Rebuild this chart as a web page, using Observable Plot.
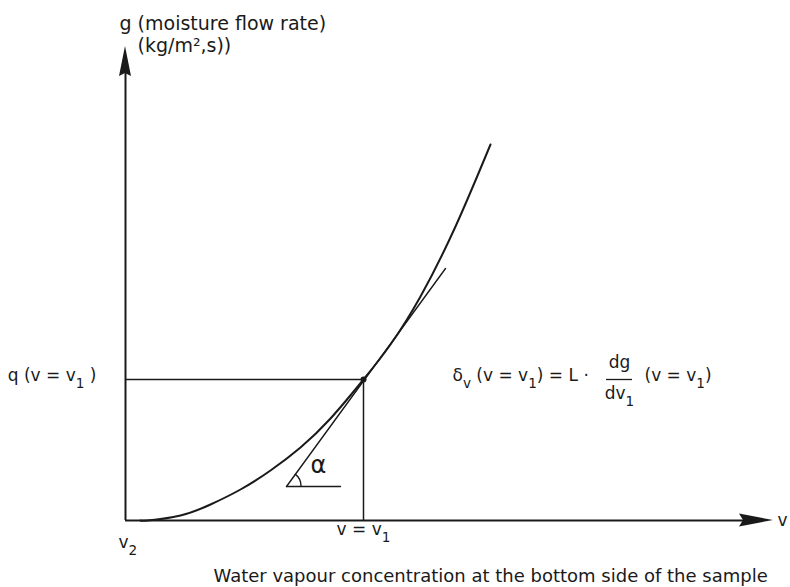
<!DOCTYPE html>
<html><head><meta charset="utf-8">
<script src="https://cdn.jsdelivr.net/npm/d3@7"></script>
<script src="https://cdn.jsdelivr.net/npm/@observablehq/plot@0.6"></script>
<style>
body{margin:0;background:#fff}
#chart svg{display:block}
</style>
</head><body><div id="chart"></div>
<script>
const curveV = [15, 22, 55, 85, 115, 145, 175, 205, 238, 265, 295, 330, 365];
const curveG = [0, 0, 5, 16, 31, 50, 73, 102, 141, 176, 224, 294, 376];
// Operating point v = v1, g = g(v1)
const pointV = [238];
const pointG = [141];
// Tangent at v1 (end points)
const tangentV = [161, 320];
const tangentG = [34, 252];
// Horizontal reference line for the angle alpha
const alphaV = [161, 215];
const alphaG = [34, 34];
// Axis extents
const axisVMax = 648;
const axisGMax = 474;

const ink = "#1a1a1a";
const font = "DejaVu Sans, sans-serif";
const fs = 17;

const curve = curveV.map((v, i) => ({v, g: curveG[i]}));
const tangent = tangentV.map((v, i) => ({v, g: tangentG[i]}));
const alphaLine = alphaV.map((v, i) => ({v, g: alphaG[i]}));
const pt = pointV.map((v, i) => ({v, g: pointG[i]}));

const ns = "http://www.w3.org/2000/svg";
function decorations(index, scales) {
  const x = scales.x, y = scales.y;
  const g = document.createElementNS(ns, "g");
  const add = (d, fill, stroke) => {
    const p = document.createElementNS(ns, "path");
    p.setAttribute("d", d);
    p.setAttribute("fill", fill);
    if (stroke) { p.setAttribute("stroke", stroke); p.setAttribute("stroke-width", 1.4); }
    g.appendChild(p);
  };
  // y-axis arrow head
  const x0 = x(0), yt = y(axisGMax);
  add(`M${x0},${yt} L${x0 - 6},${yt + 30} L${x0},${yt + 27} L${x0 + 6},${yt + 30} Z`, ink);
  // x-axis arrow head
  const y0 = y(0), xt = x(axisVMax);
  add(`M${xt},${y0} L${xt - 34},${y0 - 6.5} L${xt - 30},${y0} L${xt - 34},${y0 + 6.5} Z`, ink);
  // angle arc
  const cx = x(tangentV[0]), cy = y(tangentG[0]);
  const dx = x(tangentV[1]) - cx, dy = y(tangentG[1]) - cy;
  const th = Math.atan2(-dy, dx), r = 15;
  add(`M${cx + r},${cy} A${r},${r} 0 0 0 ${cx + r * Math.cos(th)},${cy - r * Math.sin(th)}`, "none", ink);
  return g;
}

const T = (text, v, g, opts = {}) => Plot.text([text], {
  x: () => v, y: () => g, text: d => d, fill: ink, fontSize: fs,
  fontFamily: font, textAnchor: "start", lineAnchor: "middle", ...opts
});

const plot = Plot.plot({
  width: 790,
  height: 587,
  margin: 0,
  x: {domain: [-125, 665], range: [0, 790], axis: null},
  y: {domain: [-67, 520], range: [587, 0], axis: null},
  style: {background: "#fff", fontFamily: font},
  marks: [
    // axes
    Plot.ruleX([0], {y1: 0, y2: axisGMax - 20, stroke: ink, strokeWidth: 2}),
    Plot.ruleY([0], {x1: 0, x2: axisVMax - 25, stroke: ink, strokeWidth: 2}),
    // guide lines to the operating point
    Plot.ruleY(pt, {y: "g", x1: 0, x2: "v", stroke: ink, strokeWidth: 1.5}),
    Plot.ruleX(pt, {x: "v", y1: 0, y2: "g", stroke: ink, strokeWidth: 1.5}),
    // curve
    Plot.line(curve, {x: "v", y: "g", curve: "natural", stroke: ink, strokeWidth: 2}),
    // tangent and angle
    Plot.line(tangent, {x: "v", y: "g", stroke: ink, strokeWidth: 1.4}),
    Plot.line(alphaLine, {x: "v", y: "g", stroke: ink, strokeWidth: 1.4}),
    Plot.dot(pt, {x: "v", y: "g", r: 3, fill: ink}),
    decorations,
    // labels
    T("g (moisture flow rate)", -6, 497, {fontSize: 19}),
    T("(kg/m²,s))", 12, 475, {fontSize: 19}),
    T("q (v = v₁ )", -29, pointG[0] + 4, {textAnchor: "end"}),
    T("α", 185, 55, {fontSize: 24}),
    T("v₂", -7, -22),
    T("v = v₁", pointV[0], -9, {textAnchor: "middle"}),
    T("v", 652, 0),
    T("Water vapour concentration at the bottom side of the sample", 88, -56, {fontSize: 18}),
    // formula
    T("δᵥ (v = v₁) = L ·", 327, pointG[0] + 4),
    T("dg", 494, pointG[0] + 17, {textAnchor: "middle"}),
    T("dv₁", 494, pointG[0] - 14, {textAnchor: "middle"}),
    Plot.ruleY([pointG[0]], {x1: 481, x2: 507, stroke: ink, strokeWidth: 1.3}),
    T("(v = v₁)", 519, pointG[0] + 4)
  ]
});

// turn unicode subscript characters into real SVG subscripts (text stays text)
const subMap = {"₁": "1", "₂": "2", "ᵥ": "v"};
plot.querySelectorAll("text").forEach(t => {
  const s = t.textContent;
  if (![...s].some(c => subMap[c])) return;
  const size = parseFloat(t.getAttribute("font-size") || getComputedStyle(t).fontSize) || fs;
  const shift = size * 0.4;
  while (t.firstChild) t.removeChild(t.firstChild);
  let buf = "", pendingUp = false;
  const flush = () => {
    if (!buf) return;
    const sp = document.createElementNS(ns, "tspan");
    if (pendingUp) { sp.setAttribute("dy", -shift); pendingUp = false; }
    sp.textContent = buf;
    t.appendChild(sp);
    buf = "";
  };
  for (const c of s) {
    if (subMap[c]) {
      flush();
      const sp = document.createElementNS(ns, "tspan");
      sp.setAttribute("dy", pendingUp ? 0 : shift);
      sp.setAttribute("font-size", size * 0.8);
      sp.textContent = subMap[c];
      t.appendChild(sp);
      pendingUp = true;
    } else buf += c;
  }
  flush();
});
document.getElementById("chart").appendChild(plot);
</script>
</body></html>
